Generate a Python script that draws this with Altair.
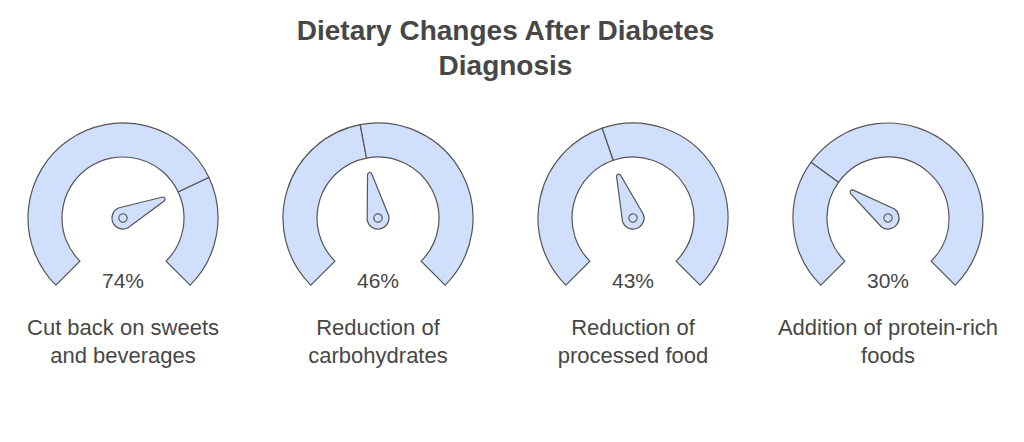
import altair as alt
import pandas as pd

# ---- data ----
categories = [
    "Cut back on sweets\nand beverages",
    "Reduction of\ncarbohydrates",
    "Reduction of\nprocessed food",
    "Addition of protein-rich\nfoods",
]
values = [74, 46, 43, 30]
title_lines = ["Dietary Changes After Diabetes", "Diagnosis"]

rows = []
for i, (cat, v) in enumerate(zip(categories, values)):
    rows.append({"idx": i, "kind": "gauge", "category": cat, "value": v, "t0": None, "t1": None})
    rows.append({"idx": i, "kind": "seg", "category": cat, "value": v, "t0": 0, "t1": v})
    rows.append({"idx": i, "kind": "seg", "category": cat, "value": v, "t0": v, "t1": 100})
df = pd.DataFrame(rows)

FILL = "#d0e0fc"
STROKE = "#555555"
TEXT = "#474747"
FONT = "Liberation Sans"

CY = 123  # gauge centre row inside each panel

base = alt.Chart()

arcs = (
    base.transform_filter("datum.kind == 'seg'")
    .mark_arc(innerRadius=61, outerRadius=95, fill=FILL, stroke=STROKE, strokeWidth=1.2)
    .encode(
        y=alt.value(CY),
        theta=alt.Theta("t0:Q", scale=alt.Scale(domain=[0, 100], range=[3.92699, 8.63938]), stack=None),
        theta2="t1:Q",
    )
)

needle_path = (
    "M -0.045 -0.975 Q 0 -1.04 0.045 -0.975 L 0.24 0 "
    "C 0.24 0.1326 0.1326 0.24 0 0.24 C -0.1326 0.24 -0.24 0.1326 -0.24 0 Z "
    "M 0.09 0 C 0.09 0.0497 0.0497 0.09 0 0.09 C -0.0497 0.09 -0.09 0.0497 -0.09 0 "
    "C -0.09 -0.0497 -0.0497 -0.09 0 -0.09 C 0.0497 -0.09 0.09 -0.0497 0.09 0 Z"
)

needles = (
    base.transform_filter("datum.kind == 'gauge'")
    .transform_calculate(ang="(225 + datum.value * 2.7) % 360")
    .mark_point(shape=needle_path, filled=True, fill=FILL, stroke=STROKE, strokeWidth=1.2, opacity=1, size=8464)
    .encode(
        y=alt.value(CY),
        angle=alt.Angle("ang:Q", scale=alt.Scale(domain=[0, 360], range=[0, 360]), legend=None),
    )
)

pct = (
    base.transform_filter("datum.kind == 'gauge'")
    .transform_calculate(label="datum.value + '%'")
    .mark_text(fontSize=21, font=FONT, color=TEXT, baseline="alphabetic", align="center")
    .encode(y=alt.value(193), text="label:N")
)

labels = (
    base.transform_filter("datum.kind == 'gauge'")
    .mark_text(fontSize=22, font=FONT, color=TEXT, baseline="alphabetic", align="center", lineBreak="\n", lineHeight=28)
    .encode(y=alt.value(240), text="category:N")
)

panel = alt.layer(arcs, needles, pct, labels, data=df).properties(width=230, height=330)

chart = (
    panel.facet(column=alt.Column("idx:N", header=None), spacing=25)
    .properties(
        padding={"top": 10, "left": 0, "right": 0, "bottom": 0},
        title=alt.Title(
            title_lines,
            fontSize=28,
            font=FONT,
            fontWeight="bold",
            color=TEXT,
            lineHeight=35,
            anchor="middle",
            offset=14,
        ),
    )
    .configure_view(stroke=None)
)

chart.save("out.html", embed_options={"renderer": "svg", "actions": False})
